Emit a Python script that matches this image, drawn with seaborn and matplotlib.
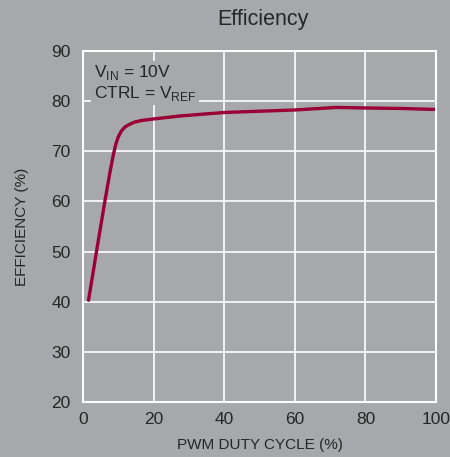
import matplotlib
matplotlib.use("Agg")
import matplotlib.pyplot as plt
import pandas as pd
import seaborn as sns

# efficiency vs PWM duty cycle
duty_cycle = [1.5, 3.8, 6.2, 7.6, 8.5, 9.2, 9.9, 10.8, 11.8, 13.0, 14.6, 16.5, 19.8,
              27.4, 40, 60, 71.6, 80, 90, 100]
efficiency = [40.3, 50.2, 60.3, 65.9, 69.2, 71.3, 72.8, 74.0, 74.8, 75.3, 75.8, 76.1, 76.4,
              77.0, 77.7, 78.2, 78.7, 78.6, 78.5, 78.3]
x_ticks = [0, 20, 40, 60, 80, 100]
y_ticks = [20, 30, 40, 50, 60, 70, 80, 90]

BG = "#a7a8ab"
INK = "#262626"
LINE = "#9a0035"

sns.set_theme(style="darkgrid", rc={
    "axes.facecolor": BG,
    "figure.facecolor": BG,
    "grid.color": "white",
    "axes.edgecolor": "white",
})
plt.rcParams["font.family"] = ["Liberation Sans", "DejaVu Sans"]

df = pd.DataFrame({"duty": duty_cycle, "eff": efficiency})

fig = plt.figure(figsize=(4.5, 4.57), dpi=100)
ax = fig.add_axes([0.185, 0.12, 0.784, 0.769])
sns.lineplot(data=df, x="duty", y="eff", ax=ax, color=LINE, linewidth=2.4, sort=False)

ax.set_xlim(0, 100)
ax.set_ylim(20, 90)
ax.set_xticks(x_ticks)
ax.set_yticks(y_ticks)
ax.tick_params(axis="x", length=0, labelsize=12.5, labelcolor=INK, pad=7)
ax.tick_params(axis="y", length=0, labelsize=12.5, labelcolor=INK, pad=9)
ax.grid(True, color="white", linewidth=1.2)
for side in ax.spines.values():
    side.set_visible(True)
    side.set_color("white")
    side.set_linewidth(1.5)

ax.set_xlabel("PWM DUTY CYCLE (%)", fontsize=11, color=INK, labelpad=8)
ax.set_ylabel("EFFICIENCY (%)", fontsize=11, color=INK, labelpad=16)
fig.suptitle("Efficiency", x=0.585, y=0.98, fontsize=15.5, color=INK)

ax.text(3, 87.5, "V$_{\\mathregular{IN}}$ = 10V\nCTRL = V$_{\\mathregular{REF}}$",
        fontsize=12.5, color=INK, va="top", ha="left", linespacing=1.1,
        bbox=dict(facecolor=BG, edgecolor="none", pad=2))

fig.savefig("out.png", dpi=100, facecolor=BG)
